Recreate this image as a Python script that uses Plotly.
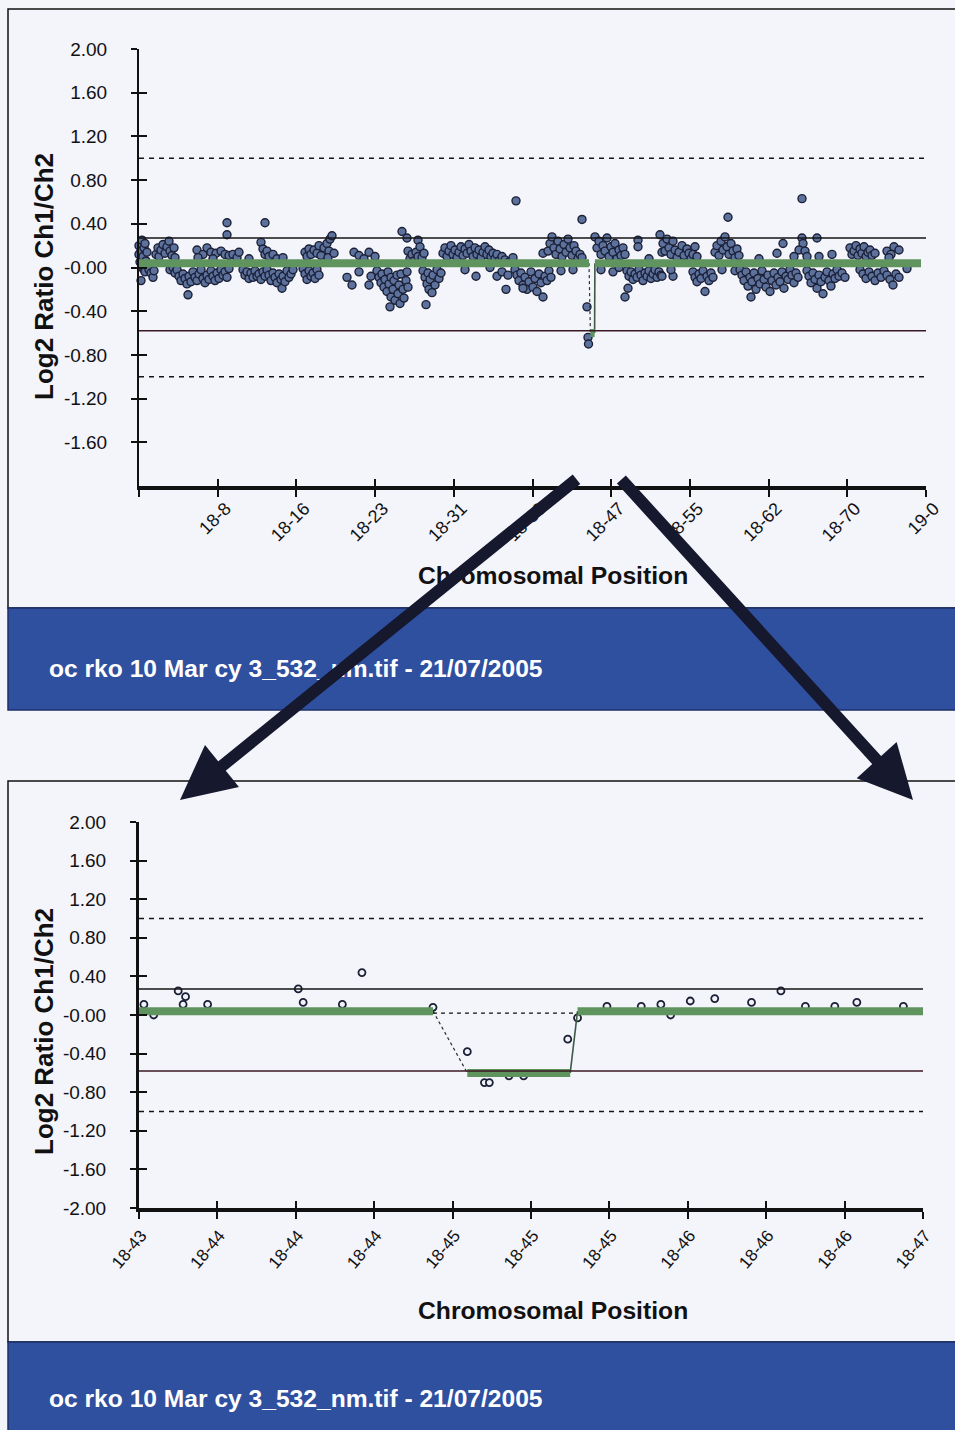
import plotly.graph_objects as go

W, H = 955, 1430

# ---------------- data ----------------
# whole chromosome 18 view: (position Mb, log2 ratio)
top_points = [
 (0.0,0.20),(0.0,0.12),(0.1,0.05),(0.2,-0.12),(0.2,0.15),(0.3,0.25),(0.3,0.00),(0.4,0.10),(0.5,0.18),(0.5,-0.02),
 (0.6,0.22),(0.6,-0.04),(0.7,0.06),(0.8,0.14),(0.9,0.02),
 (1.0,-0.02),(1.2,-0.05),(1.4,-0.09),(1.5,-0.03),
 (1.7,0.12),(1.9,0.18),(2.0,0.10),(2.2,0.16),(2.4,0.21),(2.6,0.13),(2.8,0.19),(3.0,0.24),(3.1,0.15),(3.3,0.11),
 (3.5,0.18),(3.6,0.09),(3.1,-0.02),(3.4,0.00),(3.7,-0.04),
 (3.6,-0.05),(3.8,-0.02),(4.0,-0.08),(4.2,-0.12),(4.4,-0.06),(4.6,-0.10),(4.8,-0.15),(4.9,-0.25),(5.0,-0.08),
 (5.2,-0.13),(5.4,-0.04),(5.6,-0.09),(5.8,-0.12),(6.0,-0.06),(6.2,-0.02),(6.4,-0.10),(6.6,-0.14),(6.8,-0.07),
 (7.0,-0.11),(7.2,-0.03),(7.4,-0.08),(7.6,-0.12),(7.8,-0.05),(8.0,-0.10),(8.2,-0.02),(8.4,-0.07),(8.6,-0.04),
 (8.8,-0.09),(9.0,-0.01),
 (5.8,0.16),(6.4,0.12),(6.8,0.18),(7.2,0.14),(7.7,0.13),(8.2,0.15),(8.6,0.12),(9.0,0.11),(5.9,0.09),(7.4,0.08),
 (8.8,0.41),(8.8,0.30),
 (10.4,-0.02),(10.6,-0.07),(10.8,-0.04),(11.0,-0.10),(11.2,-0.05),(11.4,-0.09),(11.6,-0.03),(11.8,-0.08),
 (12.0,-0.06),(12.2,-0.11),(12.4,-0.04),(12.6,-0.08),(12.8,-0.02),(13.0,-0.07),(13.2,-0.12),(13.4,-0.05),
 (13.6,-0.09),(13.8,-0.14),(14.0,-0.06),(14.2,-0.11),(14.3,-0.19),(14.4,-0.08),(14.6,-0.13),(14.8,-0.03),
 (15.0,-0.09),(15.2,-0.06),(15.4,-0.02),
 (9.4,0.12),(9.8,0.09),(10.0,0.14),(12.2,0.23),(12.4,0.17),(12.6,0.12),(12.8,0.15),(13.0,0.10),(13.4,0.12),
 (13.8,0.08),(14.4,0.09),(11.0,0.08),(12.6,0.41),
 (16.4,-0.01),(16.6,-0.06),(16.8,-0.11),(17.0,-0.03),(17.2,-0.08),(17.4,-0.05),(17.6,-0.10),(17.8,-0.02),(18.0,-0.07),
 (16.6,0.14),(16.8,0.10),(17.0,0.17),(17.2,0.12),(17.5,0.16),(17.8,0.13),(18.0,0.20),(18.2,0.11),(18.5,0.18),
 (18.8,0.22),(19.0,0.15),(19.1,0.26),(19.3,0.29),(18.9,0.09),(19.5,0.13),
 (20.8,-0.09),(21.3,-0.16),(21.5,0.14),(22.0,0.11),(22.5,0.08),(23.0,0.14),(22.0,-0.04),(23.2,-0.08),(23.0,-0.16),
 (23.6,0.10),
 (23.8,-0.03),(24.0,-0.09),(24.2,-0.14),(24.3,-0.06),(24.5,-0.18),(24.6,-0.11),(24.8,-0.22),(24.9,-0.04),
 (25.0,-0.15),(25.2,-0.27),(25.2,-0.09),(25.4,-0.20),(25.5,-0.12),(25.6,-0.30),(25.8,-0.07),(25.9,-0.24),
 (26.0,-0.16),(26.1,-0.33),(25.1,-0.36),(26.2,-0.06),(26.4,-0.20),(26.5,-0.28),(26.7,-0.12),(26.8,-0.04),
 (26.9,-0.18),(26.3,0.33),(26.8,0.27),(27.9,0.25),
 (26.9,0.15),(27.1,0.08),(27.3,0.12),(27.5,0.06),(27.7,0.14),(27.9,0.10),(28.1,0.19),(28.3,0.09),(28.5,0.13),
 (28.4,-0.03),(28.6,-0.09),(28.8,-0.15),(28.9,-0.05),(29.0,-0.20),(29.1,-0.11),(29.3,-0.23),(29.4,-0.07),
 (29.6,-0.16),(29.8,-0.02),(30.0,-0.10),(30.2,-0.05),(28.7,-0.34),
 (30.4,0.13),(30.6,0.18),(30.8,0.10),(31.0,0.15),(31.2,0.20),(31.4,0.12),(31.6,0.16),(31.8,0.09),(32.0,0.14),
 (32.2,0.19),(32.4,0.11),(32.6,0.17),(32.8,0.13),(33.0,0.21),(33.2,0.15),(33.4,0.10),(33.6,0.18),(33.8,0.12),
 (34.0,0.16),(34.2,0.09),(34.4,0.14),(34.6,0.19),(34.8,0.12),(35.0,0.16),(35.2,0.10),(35.4,0.13),(35.6,0.08),
 (35.8,0.12),(36.0,0.06),(36.3,0.10),(36.6,0.07),(37.0,0.05),(37.4,0.09),
 (32.6,-0.02),(33.7,-0.08),(35.1,0.00),(35.8,-0.08),(36.3,-0.04),(36.9,-0.07),(36.7,-0.20),
 (37.7,0.61),
 (37.6,-0.02),(37.8,-0.07),(38.0,-0.12),(38.2,-0.05),(38.4,-0.16),(38.6,-0.09),(38.8,-0.20),(39.0,-0.13),
 (39.2,-0.04),(39.4,-0.18),(39.6,-0.10),(39.8,-0.22),(40.0,-0.06),(40.2,-0.14),(40.4,-0.27),(40.6,-0.08),
 (40.8,-0.12),(41.0,-0.03),(41.2,-0.09),(38.4,-0.19),(40.4,0.13),
 (40.9,0.15),(41.1,0.22),(41.3,0.28),(41.5,0.18),(41.7,0.12),(41.9,0.24),(42.1,0.17),(42.3,0.10),(42.5,0.21),
 (42.7,0.14),(42.9,0.26),(43.1,0.18),(43.3,0.11),(43.5,0.20),(43.7,0.15),(43.9,0.08),(44.1,0.12),(44.3,0.09),
 (42.2,-0.03),(43.4,-0.02),(44.3,0.44),
 (44.8,-0.36),(44.9,-0.64),(44.95,-0.70),
 (45.6,0.28),(45.8,0.18),(46.0,0.24),(46.2,0.12),(46.4,0.20),(46.6,0.15),(46.8,0.27),(47.0,0.10),(47.2,0.19),
 (47.4,0.14),(47.6,0.22),(47.8,0.08),(48.0,0.16),(48.2,0.11),(48.4,0.18),(48.6,0.12),
 (46.2,-0.02),(47.4,-0.04),(48.0,0.00),(48.6,-0.27),(48.9,-0.19),
 (48.8,-0.03),(49.0,-0.08),(49.2,-0.04),(49.4,-0.11),(49.6,-0.06),(49.8,-0.09),(50.0,-0.02),(50.2,-0.07),
 (50.4,-0.12),(50.6,-0.05),(50.8,-0.08),(51.0,-0.03),(51.2,-0.10),(51.4,-0.06),(51.6,-0.02),(51.8,-0.09),
 (52.0,-0.04),(52.2,-0.07),(49.9,0.25),(49.9,0.19),(52.3,0.14),(51.0,0.08),
 (52.1,0.30),(52.4,0.22),(52.6,0.15),(52.8,0.26),(53.0,0.18),(53.2,0.12),(53.4,0.24),(53.6,0.16),(53.8,0.09),
 (54.0,0.14),(54.3,0.20),(54.5,0.11),(54.8,0.17),(55.0,0.13),(55.2,0.08),(55.4,0.12),(55.6,0.19),(55.8,0.10),
 (52.3,-0.08),(53.4,-0.08),(53.2,-0.02),
 (55.4,-0.04),(55.6,-0.09),(55.8,-0.13),(56.0,-0.06),(56.2,-0.10),(56.4,-0.03),(56.6,-0.22),(56.8,-0.08),
 (57.0,-0.12),(57.2,-0.05),(57.4,-0.09),
 (58.9,0.46),
 (57.6,0.14),(57.8,0.20),(58.0,0.11),(58.2,0.24),(58.4,0.16),(58.6,0.28),(58.8,0.19),(59.0,0.12),(59.2,0.22),
 (59.4,0.15),(59.6,0.09),(59.8,0.17),(60.0,0.11),(58.3,-0.02),(59.6,-0.03),
 (60.1,-0.02),(60.3,-0.07),(60.5,-0.12),(60.7,-0.04),(60.9,-0.17),(61.1,-0.09),(61.2,-0.27),(61.3,-0.13),
 (61.5,-0.05),(61.7,-0.20),(61.9,-0.10),(62.1,-0.15),(62.3,-0.03),(62.5,-0.11),(62.7,-0.18),(62.9,-0.07),
 (63.1,-0.22),(63.3,-0.12),(63.5,-0.05),(63.7,-0.16),(63.9,-0.09),(64.1,-0.13),(64.3,-0.04),(64.5,-0.19),
 (64.7,-0.08),(64.9,-0.11),(65.1,-0.02),(65.3,-0.07),(65.5,-0.14),(65.7,-0.05),(65.9,-0.09),
 (63.8,0.13),(64.4,0.22),(62.0,0.08),(65.5,0.10),
 (66.3,0.63),(66.3,0.27),(66.4,0.22),(67.8,0.27),(66.0,0.16),(66.6,0.15),(66.8,0.10),
 (66.8,-0.03),(67.0,-0.08),(67.2,-0.14),(67.4,-0.05),(67.6,-0.11),(67.8,-0.19),(68.0,-0.07),(68.2,-0.13),
 (68.4,-0.24),(68.6,-0.09),(68.8,-0.04),(69.0,-0.12),(69.2,-0.17),(69.4,-0.06),(69.6,-0.10),(69.8,-0.02),
 (70.0,-0.08),(70.3,-0.05),(70.6,-0.09),(69.3,0.12),(68.0,0.10),
 (71.1,0.18),(71.3,0.12),(71.5,0.15),(71.7,0.20),(71.9,0.11),(72.1,0.17),(72.3,0.13),(72.5,0.19),(72.7,0.10),
 (72.9,0.14),(73.1,0.16),(73.3,0.11),(73.6,0.13),
 (72.1,-0.02),(72.4,-0.06),(72.7,-0.10),(73.0,-0.04),(73.3,-0.08),(73.6,-0.12),(73.9,-0.05),(74.2,-0.09),
 (74.5,-0.03),(74.8,-0.07),(75.1,-0.11),(75.4,-0.16),(75.7,-0.06),(76.0,-0.09),
 (74.8,0.15),(75.2,0.12),(75.5,0.19),(76.0,0.16),(75.0,0.09),(76.8,-0.01),
]
top_pos = [p[0] for p in top_points]
top_ratio = [p[1] for p in top_points]

# zoomed region 18-43 .. 18-47
zoom_pos = [43.82, 43.86, 43.96, 43.98, 43.99, 44.08, 44.45, 44.47, 44.63, 44.71, 45.00, 45.14,
            45.21, 45.23, 45.31, 45.37, 45.55, 45.59, 45.71, 45.85, 45.93, 45.97, 46.05, 46.15,
            46.30, 46.42, 46.52, 46.64, 46.73, 46.92]
zoom_ratio = [0.11, 0.00, 0.25, 0.11, 0.19, 0.11, 0.27, 0.13, 0.11, 0.44, 0.08, -0.38,
              -0.70, -0.70, -0.63, -0.63, -0.25, -0.03, 0.09, 0.09, 0.11, 0.00, 0.145, 0.17,
              0.13, 0.25, 0.09, 0.09, 0.13, 0.09]

# segmentation (start, end, level)
seg_start = [0.0, 45.14, 45.59]
seg_end = [45.00, 45.56, 78.2]
seg_level = [0.04, -0.60, 0.04]
baseline_level = 0.02

# thresholds
solid_thresholds = [0.27, -0.58]
dashed_thresholds = [1.0, -1.0]

# axes
top_xrange = [0, 78.7]
top_xticks = [0, 7.87, 15.74, 23.61, 31.48, 39.35, 47.22, 55.09, 62.96, 70.83, 78.7]
top_xlabels = ["", "18-8", "18-16", "18-23", "18-31", "18-39", "18-47", "18-55", "18-62", "18-70", "19-0"]
zoom_xrange = [43.8, 47.0]
zoom_xticks = [43.8, 44.12, 44.44, 44.76, 45.08, 45.4, 45.72, 46.04, 46.36, 46.68, 47.0]
zoom_xlabels = ["18-43", "18-44", "18-44", "18-44", "18-45", "18-45", "18-45", "18-46", "18-46", "18-46", "18-47"]
top_yticks = [2.0, 1.6, 1.2, 0.8, 0.4, 0.0, -0.4, -0.8, -1.2, -1.6]
top_ylabels = ["2.00", "1.60", "1.20", "0.80", "0.40", "-0.00", "-0.40", "-0.80", "-1.20", "-1.60"]
zoom_yticks = top_yticks + [-2.0]
zoom_ylabels = top_ylabels + ["-2.00"]

caption = "oc rko 10 Mar cy 3_532_nm.tif - 21/07/2005"
xtitle = "Chromosomal Position"
ytitle = "Log2 Ratio Ch1/Ch2"

# ---------------- style ----------------
BG = "#f4f4fb"
BLUE = "#2f4f9f"
GREEN = "#5f945f"
INK = "#111111"
FONT = "Liberation Sans, Arial, sans-serif"

def px(x):
    return x / W

def py(y):
    return 1 - y / H

fig = go.Figure()

fig.add_trace(go.Scatter(x=top_pos, y=top_ratio, mode="markers", xaxis="x", yaxis="y",
                         cliponaxis=False,
                         marker=dict(size=8, color="#5d719d", line=dict(color="#1b2036", width=1.4)),
                         showlegend=False, hoverinfo="skip"))
fig.add_trace(go.Scatter(x=zoom_pos, y=zoom_ratio, mode="markers", xaxis="x2", yaxis="y2",
                         cliponaxis=False,
                         marker=dict(size=7, color="#f2f3fa", line=dict(color="#1b2036", width=1.8)),
                         showlegend=False, hoverinfo="skip"))

for xa, ya, w in (("x", "y", 8), ("x2", "y2", 8)):
    fig.add_trace(go.Scatter(x=[seg_end[0], seg_start[1]], y=[seg_level[0], seg_level[1]], mode="lines",
                             xaxis=xa, yaxis=ya, line=dict(color="#2a3030", width=1.2, dash="dot"),
                             showlegend=False, hoverinfo="skip"))
    fig.add_trace(go.Scatter(x=[seg_end[1], seg_start[2]], y=[seg_level[1], seg_level[2]], mode="lines",
                             xaxis=xa, yaxis=ya, line=dict(color="#3c5a44", width=1.6),
                             showlegend=False, hoverinfo="skip"))
    for s, e, v in zip(seg_start, seg_end, seg_level):
        fig.add_trace(go.Scatter(x=[s, e], y=[v, v], mode="lines", xaxis=xa, yaxis=ya,
                                 line=dict(color=GREEN, width=w), showlegend=False, hoverinfo="skip"))

fig.add_trace(go.Scatter(x=[seg_end[0], seg_start[2]], y=[baseline_level, baseline_level], mode="lines",
                         xaxis="x2", yaxis="y2", line=dict(color=INK, width=1.3, dash="4px,4px"),
                         showlegend=False, hoverinfo="skip"))

for xa, ya in (("x", "y3"), ("x3", "y"), ("x2", "y4"), ("x4", "y2")):
    fig.add_trace(go.Scatter(x=[], y=[], xaxis=xa, yaxis=ya, showlegend=False, hoverinfo="skip"))

shapes = []
shapes.append(dict(type="rect", xref="paper", yref="paper", x0=px(8), x1=px(962), y0=py(608), y1=py(9),
                   line=dict(color=INK, width=1.5), fillcolor=BG, layer="below"))
shapes.append(dict(type="rect", xref="paper", yref="paper", x0=px(8), x1=px(962), y0=py(1342), y1=py(781),
                   line=dict(color=INK, width=1.5), fillcolor=BG, layer="below"))
shapes.append(dict(type="rect", xref="paper", yref="paper", x0=px(8), x1=px(962), y0=py(710), y1=py(608),
                   line=dict(color="#1d2f6a", width=1.5), fillcolor=BLUE, layer="below"))
shapes.append(dict(type="rect", xref="paper", yref="paper", x0=px(8), x1=px(962), y0=py(1440), y1=py(1342),
                   line=dict(color="#1d2f6a", width=1.5), fillcolor=BLUE, layer="below"))

for xa, ya in (("x", "y"), ("x2", "y2")):
    shapes.append(dict(type="line", xref=xa + " domain", yref=ya, x0=0, x1=1,
                       y0=solid_thresholds[0], y1=solid_thresholds[0], line=dict(color="#151515", width=1.5)))
    shapes.append(dict(type="line", xref=xa + " domain", yref=ya, x0=0, x1=1,
                       y0=solid_thresholds[1], y1=solid_thresholds[1], line=dict(color="#3b1822", width=1.5)))
    for v in dashed_thresholds:
        shapes.append(dict(type="line", xref=xa + " domain", yref=ya, x0=0, x1=1, y0=v, y1=v,
                           line=dict(color="#151515", width=1.4, dash="5px,5px")))

annotations = []
for yc, ycen_title, yx in ((668, 277, 575), (1398, 1032, 1310)):
    annotations.append(dict(xref="paper", yref="paper", x=px(47), y=py(yc), xanchor="left", yanchor="middle",
                            text=caption, showarrow=False,
                            font=dict(family=FONT, size=24.6, color="white", weight="bold")))
    annotations.append(dict(xref="paper", yref="paper", x=px(44), y=py(ycen_title), xanchor="center",
                            yanchor="middle", text=ytitle, textangle=-90, showarrow=False,
                            font=dict(family=FONT, size=26, color=INK, weight="bold")))
    annotations.append(dict(xref="paper", yref="paper", x=px(553), y=py(yx), xanchor="center", yanchor="middle",
                            text=xtitle, showarrow=False,
                            font=dict(family=FONT, size=24.7, color=INK, weight="bold")))

for hx, hy, tx, ty in ((180, 800, 578, 478), (913, 800, 620, 478)):
    annotations.append(dict(xref="paper", yref="paper", x=px(hx), y=py(hy), ax=tx - hx, ay=ty - hy,
                            axref="pixel", ayref="pixel", text="", showarrow=True, arrowhead=2,
                            arrowsize=0.9, arrowwidth=12, arrowcolor="#16182e", standoff=0, startstandoff=0))

tickfont = dict(family=FONT, size=19, color=INK)

def yax(domain, vals, labels, lw):
    return dict(domain=domain, range=[-2, 2], tickvals=vals, ticktext=labels, ticks="outside", ticklen=6,
                tickwidth=2, tickcolor=INK, showline=True, linecolor=INK, linewidth=lw, showgrid=False,
                zeroline=False, tickfont=tickfont, ticklabelstandoff=20, automargin=False)

def yover(over, anchor, vals):
    return dict(overlaying=over, anchor=anchor, range=[-2, 2], tickvals=vals, ticks="inside", ticklen=8,
                tickwidth=2, tickcolor=INK, showticklabels=False, showline=False, showgrid=False,
                zeroline=False, automargin=False)

def xax(domain, anchor, rng, vals, labels, angle, size, standoff, shift):
    return dict(domain=domain, anchor=anchor, range=rng, tickvals=vals, ticktext=labels, ticks="outside",
                ticklen=7, tickwidth=2, tickcolor=INK, showline=True, linecolor=INK, linewidth=4,
                showgrid=False, zeroline=False, tickangle=angle,
                tickfont=dict(family=FONT, size=size, color=INK), ticklabelstandoff=standoff,
                ticklabelshift=shift, automargin=False)

def xover(over, anchor, rng, vals):
    return dict(overlaying=over, anchor=anchor, range=rng, tickvals=vals, ticks="inside", ticklen=7,
                tickwidth=2, tickcolor=INK, showticklabels=False, showline=False, showgrid=False,
                zeroline=False, automargin=False)

top_xdom = [px(139), px(926)]
top_ydom = [py(486), py(49)]
bot_xdom = [px(139), px(923)]
bot_ydom = [py(1208), py(822)]

fig.update_layout(
    width=W, height=H, autosize=False,
    margin=dict(l=0, r=0, t=0, b=0, pad=0, autoexpand=False),
    paper_bgcolor=BG, plot_bgcolor="rgba(0,0,0,0)",
    showlegend=False,
    xaxis=xax(top_xdom, "y", top_xrange, top_xticks, top_xlabels, -45, 18, -6, 8),
    yaxis=dict(**yax(top_ydom, top_yticks, top_ylabels, 2), anchor="x"),
    xaxis3=xover("x", "y", top_xrange, top_xticks),
    yaxis3=yover("y", "x", top_yticks),
    xaxis2=xax(bot_xdom, "y2", zoom_xrange, zoom_xticks, zoom_xlabels, -50, 17, 0, 2),
    yaxis2=dict(**yax(bot_ydom, zoom_yticks, zoom_ylabels, 3), anchor="x2"),
    xaxis4=xover("x2", "y2", zoom_xrange, zoom_xticks),
    yaxis4=yover("y2", "x2", zoom_yticks),
    shapes=shapes,
    annotations=annotations,
)

fig.write_html("out.html", config={"displayModeBar": False},
               post_script="document.body.style.margin='0';document.body.style.overflow='hidden';")
